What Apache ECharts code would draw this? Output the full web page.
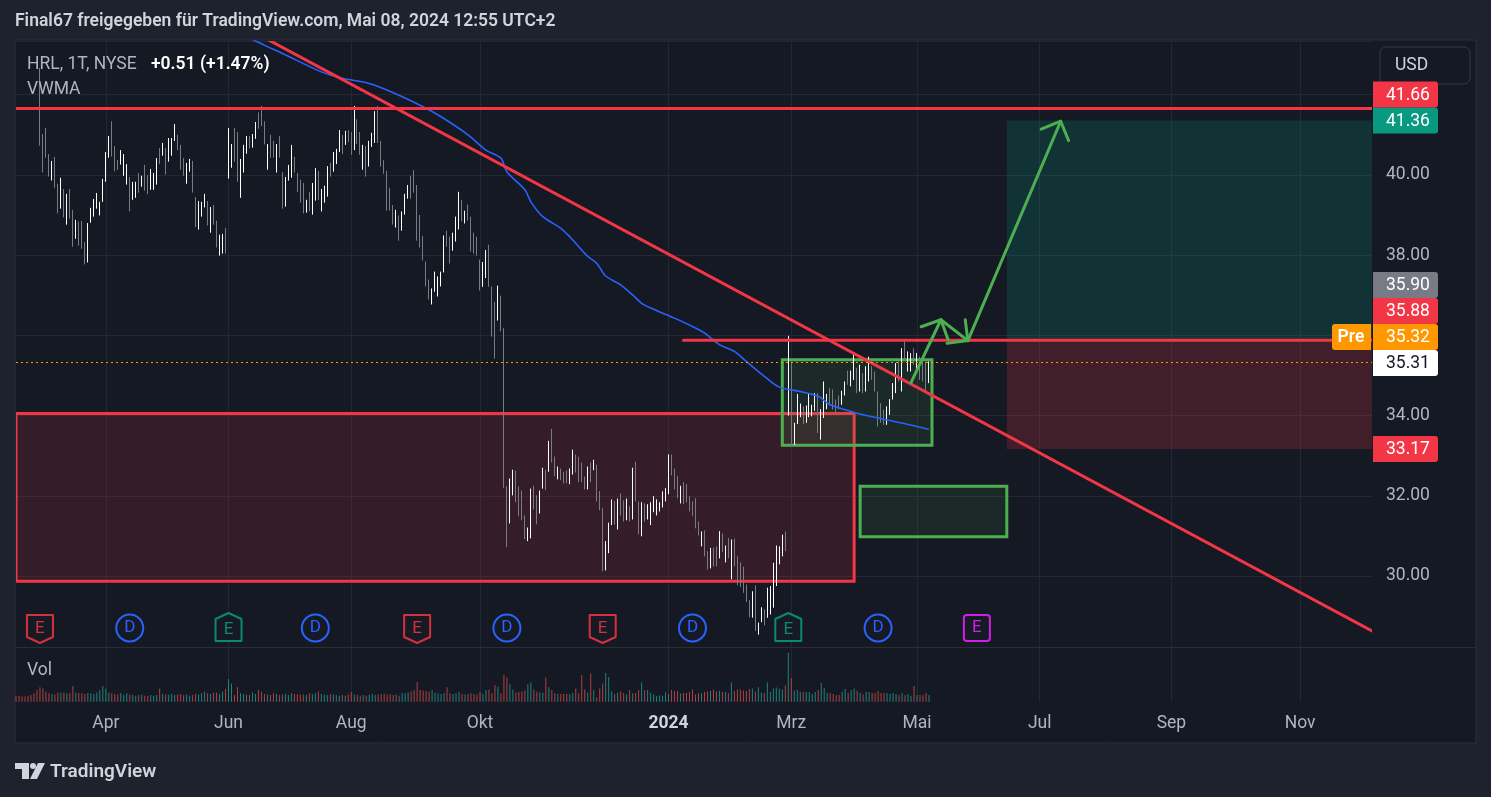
<!DOCTYPE html>
<html>
<head>
<meta charset="utf-8">
<title>HRL 1T NYSE</title>
<script src="https://cdn.jsdelivr.net/npm/echarts@6/dist/echarts.min.js"></script>
<style>
  html, body { margin: 0; padding: 0; background: #1e222d; }
  #chart { width: 1491px; height: 797px; }
</style>
</head>
<body>
<div id="chart"></div>
<script>
// Handelstage NYSE ab 17.02.2023, Wochenenden und Feiertage fallen raus
var holidays = ['2023-02-20', '2023-04-07', '2023-05-29', '2023-06-19', '2023-07-04', '2023-09-04',
  '2023-11-23', '2023-12-25', '2024-01-01', '2024-01-15', '2024-02-19', '2024-03-29', '2024-05-27',
  '2024-06-19', '2024-07-04', '2024-09-02', '2024-11-28'];
var dates = [];
(function () {
  var d = new Date(Date.UTC(2023, 1, 17));
  while (dates.length < 454) {
    var s = d.toISOString().slice(0, 10);
    var wd = d.getUTCDay();
    if (wd !== 0 && wd !== 6 && holidays.indexOf(s) < 0) dates.push(s);
    d.setUTCDate(d.getUTCDate() + 1);
  }
})();

var monthsDe = ['Jan', 'Feb', 'Mrz', 'Apr', 'Mai', 'Jun', 'Jul', 'Aug', 'Sep', 'Okt', 'Nov', 'Dez'];
var labelMonths = ['2023-04', '2023-06', '2023-08', '2023-10', '2024-01', '2024-03', '2024-05', '2024-07', '2024-09', '2024-11'];

// Kerzen (Index 0 = 17.02.2023, letzte Kerze = 07.05.2024)
var opens = [
  45.00, 44.80, 44.60, 44.50, 44.70, 44.60, 44.50, 44.40, 42.55, 40.95,
  41.05, 40.45, 39.95, 40.30, 39.70, 39.20, 39.55, 38.90, 39.45, 39.00,
  38.45, 38.78, 38.40, 38.25, 37.88, 38.85, 39.05, 39.25, 39.05, 39.35,
  39.90, 40.50, 41.00, 40.60, 40.33, 40.30, 40.05, 39.85, 39.90, 39.42,
  39.50, 39.95, 39.75, 40.15, 39.90, 39.68, 39.70, 39.85, 40.60, 40.52,
  40.60, 40.40, 40.55, 40.90, 40.95, 40.70, 40.35, 39.85, 40.12, 40.30,
  39.40, 38.75, 39.00, 39.25, 39.30, 38.65, 39.15, 38.80, 38.05, 38.10,
  38.60, 40.00, 40.25, 41.05, 40.95, 39.55, 40.12, 40.58, 40.92, 40.72,
  40.95, 41.50, 41.60, 41.28, 40.20, 40.95, 40.80, 40.15, 40.90, 40.00,
  39.28, 39.90, 40.00, 40.40, 40.00, 39.80, 39.40, 39.10, 39.50, 39.10,
  39.45, 40.05, 39.15, 39.38, 39.55, 40.25, 40.12, 40.32, 40.62, 40.95,
  40.80, 41.08, 41.00, 40.70, 41.30, 41.00, 40.20, 40.65, 40.28, 40.75,
  40.88, 41.60, 40.80, 40.32, 40.05, 39.60, 39.20, 38.75, 38.92, 38.68,
  39.08, 39.45, 39.90, 40.05, 39.65, 38.90, 38.40, 37.80, 37.32, 36.82,
  37.15, 37.02, 37.28, 37.62, 38.55, 38.40, 38.15, 38.40, 38.70, 39.32,
  38.85, 39.20, 38.90, 38.50, 38.40, 37.82, 37.25, 37.50, 38.15, 37.10,
  36.75, 36.45, 36.90, 36.05, 32.15, 31.40, 32.08, 32.55, 32.15, 32.05,
  31.45, 30.92, 31.02, 32.18, 31.95, 31.62, 32.22, 32.58, 32.65, 33.55,
  32.92, 32.45, 32.64, 32.55, 32.58, 32.33, 32.58, 32.98, 32.90, 32.78,
  32.44, 32.22, 32.78, 32.67, 32.72, 32.05, 31.60, 30.20, 30.62, 31.32,
  31.82, 31.22, 32.00, 31.84, 31.45, 31.70, 31.48, 32.78, 31.80, 31.05,
  31.76, 31.45, 31.33, 31.63, 31.55, 31.64, 31.75, 31.90, 32.10, 32.98,
  32.62, 32.45, 31.86, 32.28, 32.24, 31.95, 31.82, 31.88, 31.32, 30.78,
  31.08, 30.58, 30.24, 30.66, 30.68, 30.50, 31.00, 30.38, 30.90, 30.00,
  30.87, 30.44, 30.28, 30.17, 29.74, 29.36, 29.01, 29.68, 28.57, 28.88,
  29.12, 29.02, 29.10, 29.30, 29.82, 30.33, 30.54, 31.05, 34.10, 35.25,
  33.32, 33.85, 34.00, 34.18, 33.86, 34.02, 34.01, 34.16, 34.48, 33.48,
  34.00, 34.20, 34.64, 34.60, 34.36, 34.46, 34.30, 34.54, 35.08, 34.78,
  34.95, 35.13, 34.66, 35.01, 34.66, 34.90, 35.19, 35.05, 34.52, 34.26,
  34.11, 33.81, 34.06, 34.44, 34.62, 35.30, 34.70, 35.80, 35.15, 35.15,
  35.63, 35.15, 35.42, 35.26, 35.30, 34.85
];
var highs = [
  45.10, 44.90, 44.70, 44.60, 44.80, 44.70, 44.60, 44.50, 42.67, 41.02,
  41.17, 40.52, 40.35, 40.45, 39.78, 39.93, 39.65, 39.53, 39.65, 39.13,
  38.88, 38.84, 38.85, 38.33, 38.80, 39.18, 39.40, 39.55, 39.33, 39.90,
  40.57, 40.97, 41.34, 40.72, 40.37, 40.62, 40.52, 40.27, 39.95, 39.83,
  39.83, 40.05, 39.98, 40.25, 40.00, 40.15, 40.05, 40.42, 40.67, 40.80,
  40.67, 40.92, 40.92, 41.27, 41.00, 40.75, 40.42, 40.30, 40.40, 40.35,
  39.45, 39.35, 39.33, 39.53, 39.35, 39.20, 39.25, 38.86, 38.51, 38.53,
  38.68, 41.17, 40.77, 41.17, 41.07, 40.40, 40.75, 40.97, 40.97, 41.02,
  41.32, 41.56, 41.72, 41.34, 40.77, 41.00, 40.85, 40.77, 40.97, 40.07,
  39.95, 40.25, 40.75, 40.45, 40.05, 39.88, 39.80, 39.38, 39.58, 39.80,
  40.17, 40.10, 39.65, 39.73, 40.22, 40.30, 40.57, 40.65, 41.12, 41.00,
  41.10, 41.12, 41.07, 41.72, 41.39, 41.07, 40.75, 40.72, 40.85, 41.05,
  41.59, 41.72, 40.85, 40.37, 40.10, 39.68, 39.25, 39.13, 38.99, 39.09,
  39.53, 39.75, 39.98, 40.12, 39.75, 39.00, 38.48, 37.84, 37.39, 37.17,
  37.59, 37.47, 37.59, 38.49, 38.61, 38.46, 38.56, 38.96, 39.58, 39.38,
  39.11, 39.26, 38.96, 38.56, 38.46, 37.89, 37.83, 38.13, 38.26, 37.22,
  36.84, 37.24, 36.99, 36.18, 32.24, 32.43, 32.65, 32.63, 32.23, 32.13,
  31.51, 31.21, 32.18, 32.25, 32.01, 32.13, 32.70, 32.65, 33.37, 33.67,
  32.98, 32.73, 32.68, 32.60, 32.63, 32.68, 33.15, 33.03, 32.98, 32.83,
  32.48, 32.73, 32.83, 32.90, 32.78, 32.12, 31.70, 30.87, 31.33, 31.91,
  31.87, 31.93, 32.06, 31.89, 31.93, 31.74, 32.70, 32.85, 31.86, 31.84,
  31.81, 31.79, 31.84, 31.99, 31.91, 31.84, 32.11, 32.19, 33.03, 33.03,
  32.68, 32.50, 32.25, 32.34, 32.29, 31.99, 31.86, 31.94, 31.36, 31.11,
  31.14, 30.62, 30.70, 30.71, 30.74, 31.12, 31.06, 30.76, 30.95, 30.91,
  30.93, 30.50, 30.34, 30.23, 29.79, 29.40, 29.62, 29.77, 28.84, 29.22,
  29.17, 29.71, 29.75, 30.33, 30.76, 30.74, 31.03, 31.11, 35.99, 35.35,
  33.82, 34.54, 34.30, 34.23, 34.25, 34.56, 34.27, 34.56, 34.56, 34.16,
  34.85, 34.54, 34.69, 34.65, 34.40, 34.50, 34.62, 34.85, 35.12, 35.12,
  35.52, 35.19, 35.27, 35.06, 35.23, 35.47, 35.23, 35.10, 34.60, 34.31,
  34.15, 34.23, 34.41, 34.81, 35.31, 35.35, 35.68, 35.85, 35.60, 35.56,
  35.68, 35.56, 35.47, 35.31, 35.35, 35.35
];
var lows = [
  44.30, 44.20, 44.00, 43.95, 44.00, 44.05, 43.90, 43.80, 40.73, 40.06,
  40.43, 39.96, 39.86, 39.68, 39.04, 39.16, 38.94, 38.76, 38.91, 38.21,
  38.41, 38.24, 38.16, 37.77, 37.82, 38.81, 38.96, 39.16, 38.99, 39.33,
  39.83, 40.43, 40.46, 40.09, 40.13, 40.26, 39.98, 39.76, 39.09, 39.38,
  39.43, 39.56, 39.71, 39.61, 39.52, 39.63, 39.63, 39.76, 40.27, 40.48,
  40.01, 40.33, 40.48, 40.85, 40.62, 40.13, 39.98, 39.78, 40.08, 39.56,
  38.70, 38.64, 38.96, 39.19, 38.74, 38.56, 38.76, 38.19, 37.99, 38.04,
  38.04, 39.91, 40.18, 40.33, 39.83, 39.43, 40.06, 40.53, 40.66, 40.68,
  40.90, 41.15, 41.22, 40.76, 40.13, 40.43, 40.43, 40.06, 40.43, 39.16,
  39.21, 39.86, 39.93, 40.06, 39.58, 39.31, 39.04, 39.06, 39.09, 39.01,
  39.36, 39.38, 39.09, 39.31, 39.46, 39.96, 40.08, 40.27, 40.57, 40.52,
  40.75, 40.82, 40.50, 40.62, 40.77, 40.50, 40.13, 39.96, 40.21, 40.70,
  40.80, 40.80, 40.21, 40.03, 39.11, 39.11, 38.76, 38.69, 38.36, 38.61,
  39.01, 39.41, 39.41, 39.56, 38.36, 38.19, 37.87, 37.22, 36.89, 36.77,
  37.09, 36.97, 37.22, 37.57, 38.21, 37.79, 38.11, 38.34, 38.64, 38.84,
  38.79, 38.86, 38.09, 38.04, 37.99, 37.12, 37.21, 37.43, 37.21, 35.97,
  35.42, 36.37, 36.10, 32.20, 30.72, 31.31, 32.01, 31.84, 31.49, 31.39,
  30.92, 30.87, 30.94, 31.66, 31.29, 31.56, 32.18, 32.14, 32.60, 32.83,
  32.49, 32.41, 32.39, 32.31, 32.31, 32.29, 32.53, 32.58, 32.34, 32.34,
  32.16, 32.16, 32.34, 32.64, 31.86, 31.64, 30.12, 30.14, 30.57, 31.27,
  31.28, 31.16, 31.51, 31.36, 31.39, 31.36, 31.41, 31.86, 31.04, 30.99,
  31.36, 31.41, 31.27, 31.59, 31.51, 31.61, 31.71, 31.86, 32.04, 32.51,
  32.16, 31.94, 31.81, 31.79, 31.84, 31.61, 31.49, 31.19, 31.01, 30.74,
  30.49, 30.16, 30.19, 30.24, 30.24, 30.44, 30.60, 30.34, 30.44, 29.92,
  30.24, 29.77, 29.73, 29.58, 29.35, 28.97, 28.96, 28.63, 28.54, 28.85,
  28.77, 28.96, 29.04, 29.21, 29.75, 30.29, 30.49, 30.62, 34.00, 33.22,
  33.27, 33.79, 33.96, 33.79, 33.82, 33.96, 33.98, 34.12, 33.57, 33.40,
  33.94, 34.16, 34.25, 34.15, 34.06, 34.16, 34.27, 34.50, 34.77, 34.73,
  34.89, 34.56, 34.60, 34.56, 34.60, 34.85, 34.89, 34.60, 33.73, 33.82,
  33.77, 33.77, 34.02, 34.40, 34.56, 34.85, 34.60, 35.35, 35.10, 35.10,
  35.27, 35.10, 34.89, 34.85, 34.60, 34.81
];
var closes = [
  44.40, 44.30, 44.10, 44.05, 44.10, 44.15, 44.00, 43.90, 41.00, 40.25,
  40.50, 40.05, 40.30, 39.75, 39.10, 39.85, 39.00, 39.45, 39.00, 38.30,
  38.80, 38.35, 38.25, 37.85, 38.75, 39.15, 39.35, 39.50, 39.30, 39.85,
  40.50, 40.90, 40.55, 40.15, 40.17, 40.55, 40.45, 40.20, 39.20, 39.78,
  39.78, 39.62, 39.95, 39.70, 39.60, 40.10, 40.00, 40.38, 40.33, 40.75,
  40.10, 40.85, 40.88, 41.20, 40.68, 40.20, 40.05, 40.25, 40.35, 39.65,
  38.80, 39.30, 39.28, 39.48, 38.80, 39.15, 38.82, 38.25, 38.45, 38.48,
  38.10, 41.05, 40.70, 40.40, 39.90, 40.35, 40.70, 40.92, 40.70, 40.98,
  41.28, 41.20, 41.28, 40.82, 40.72, 40.50, 40.48, 40.72, 40.48, 39.25,
  39.90, 40.20, 40.70, 40.10, 39.62, 39.38, 39.10, 39.35, 39.15, 39.75,
  40.10, 39.45, 39.60, 39.68, 40.15, 40.00, 40.52, 40.60, 41.05, 40.58,
  41.05, 40.88, 40.55, 41.60, 40.85, 40.55, 40.70, 40.02, 40.80, 41.00,
  41.52, 40.88, 40.28, 40.08, 39.20, 39.18, 38.82, 39.08, 38.42, 39.02,
  39.48, 39.70, 39.48, 39.62, 38.45, 38.25, 37.92, 37.28, 36.95, 37.12,
  37.52, 37.42, 37.55, 38.42, 38.25, 37.85, 38.50, 38.90, 39.50, 38.90,
  39.05, 38.92, 38.15, 38.10, 38.05, 37.20, 37.78, 38.05, 37.30, 36.05,
  35.55, 37.15, 36.18, 32.35, 30.85, 32.35, 32.58, 31.90, 31.55, 31.45,
  30.98, 31.15, 32.10, 31.72, 31.35, 32.08, 32.65, 32.20, 33.30, 32.90,
  32.55, 32.70, 32.43, 32.35, 32.35, 32.64, 33.08, 32.62, 32.40, 32.40,
  32.20, 32.68, 32.40, 32.87, 31.92, 31.70, 30.25, 30.80, 31.28, 31.85,
  31.34, 31.88, 31.56, 31.42, 31.88, 31.40, 32.62, 31.92, 31.10, 31.78,
  31.40, 31.75, 31.80, 31.95, 31.87, 31.81, 32.07, 32.15, 32.95, 32.56,
  32.20, 31.98, 32.20, 31.84, 31.88, 31.65, 31.53, 31.25, 31.05, 31.07,
  30.55, 30.20, 30.65, 30.28, 30.28, 31.05, 30.64, 30.72, 30.48, 30.85,
  30.30, 29.83, 29.78, 29.63, 29.40, 29.01, 29.57, 28.70, 28.81, 29.18,
  28.81, 29.65, 29.70, 30.25, 30.70, 30.70, 30.98, 30.66, 35.30, 33.35,
  33.78, 34.48, 34.26, 33.84, 34.21, 34.50, 34.24, 34.52, 33.65, 34.10,
  34.78, 34.50, 34.30, 34.20, 34.10, 34.20, 34.58, 34.81, 34.81, 35.08,
  35.45, 34.62, 35.21, 34.61, 35.18, 35.41, 34.93, 34.65, 33.80, 33.86,
  33.81, 34.19, 34.37, 34.77, 35.25, 34.90, 35.60, 35.40, 35.55, 35.51,
  35.31, 35.51, 34.94, 34.90, 34.80, 35.31
];
// Volumen in Mio. Stück
var volumes = [
  1.9, 1.9, 1.7, 1.7, 2.0, 2.2, 2.8, 3.9, 4.8, 4.4,
  3.3, 2.8, 2.6, 2.4, 3.0, 3.0, 3.0, 2.8, 2.8, 5.2,
  3.0, 2.9, 2.8, 2.6, 2.9, 2.8, 2.6, 3.1, 3.9, 5.2,
  4.4, 3.1, 2.8, 2.6, 2.4, 2.9, 2.2, 2.8, 2.4, 2.2,
  2.0, 2.2, 2.4, 2.0, 1.9, 2.2, 2.0, 2.2, 4.4, 2.6,
  2.4, 2.3, 2.6, 2.2, 2.4, 2.6, 2.2, 2.4, 2.0, 2.2,
  2.6, 2.4, 2.8, 3.3, 2.8, 2.6, 3.0, 3.1, 2.6, 3.3,
  4.2, 7.6, 6.1, 2.2, 4.8, 2.8, 2.6, 2.4, 2.2, 3.1,
  2.6, 4.0, 3.3, 2.6, 2.4, 2.2, 2.8, 2.6, 2.2, 2.4,
  2.6, 2.2, 2.8, 2.6, 2.6, 2.4, 2.4, 2.2, 2.8, 2.6,
  2.8, 3.4, 2.6, 2.4, 2.2, 2.6, 2.4, 2.2, 2.0, 2.2,
  2.0, 2.4, 3.2, 2.4, 2.2, 2.0, 2.2, 2.0, 2.4, 2.6,
  2.2, 2.4, 2.6, 2.6, 2.4, 2.6, 2.2, 2.4, 2.0, 2.8,
  2.8, 3.1, 3.4, 3.9, 6.6, 3.9, 3.7, 3.6, 3.4, 3.9,
  3.0, 2.8, 2.6, 2.8, 4.8, 2.8, 2.6, 2.8, 3.2, 2.6,
  2.4, 2.6, 2.8, 2.6, 2.4, 3.2, 2.6, 3.9, 4.0, 2.8,
  5.6, 5.0, 2.8, 8.9, 8.1, 5.8, 4.1, 3.0, 3.2, 3.4,
  3.7, 5.8, 6.4, 4.1, 3.3, 3.1, 3.0, 8.1, 4.8, 3.9,
  2.8, 2.6, 2.6, 2.6, 2.6, 2.6, 2.9, 4.4, 2.8, 8.8,
  4.1, 3.1, 9.4, 3.9, 1.4, 4.4, 6.1, 9.6, 8.2, 3.4,
  2.6, 3.0, 3.4, 2.8, 2.4, 3.9, 2.8, 2.9, 3.9, 6.4,
  3.7, 3.9, 3.0, 2.4, 1.9, 2.1, 2.0, 3.1, 2.6, 3.9,
  3.6, 3.6, 2.7, 2.9, 2.9, 3.2, 4.1, 2.4, 2.8, 2.8,
  3.2, 3.4, 3.6, 4.1, 3.4, 3.6, 3.2, 3.2, 2.9, 6.4,
  3.6, 4.1, 4.1, 3.7, 3.6, 4.2, 4.4, 3.3, 4.8, 3.1,
  2.9, 6.4, 3.2, 4.4, 4.7, 4.4, 4.1, 5.4, 16.3, 7.9,
  3.7, 3.9, 3.2, 3.2, 3.2, 3.2, 2.6, 3.2, 3.9, 6.2,
  4.6, 2.9, 2.8, 2.6, 2.2, 2.2, 3.2, 4.2, 2.9, 3.9,
  4.4, 3.6, 2.9, 2.4, 3.2, 3.2, 2.9, 2.9, 3.6, 2.9,
  2.9, 2.9, 2.6, 2.9, 2.6, 2.2, 2.9, 2.2, 2.6, 2.0,
  5.2, 2.2, 2.2, 2.2, 2.9, 2.2
];
var vwma = [
  [74, 43.55], [80, 43.34], [84, 43.20], [89, 43.03], [102, 42.57], [109, 42.41], [118, 42.28],
  [127, 42.02], [136, 41.70], [142, 41.45], [151, 41.00], [157, 40.62], [162, 40.42], [164, 40.08],
  [170, 39.63], [172, 39.33], [176, 38.96], [182, 38.67], [185, 38.46], [188, 38.21], [191, 37.97],
  [194, 37.80], [197, 37.48], [202, 37.26], [206, 37.01], [209, 36.80], [213, 36.65], [220, 36.43],
  [226, 36.22], [230, 36.06], [235, 35.77], [240, 35.60], [244, 35.35], [250, 34.98], [255, 34.71],
  [262, 34.60], [268, 34.48], [272, 34.27], [279, 34.10], [283, 34.02], [293, 33.86], [301, 33.73],
  [305, 33.66]
];

// Zeichnungen: [Index1, Preis1, Index2, Preis2]
var lines = [
  [80, 43.54, 453, 28.63],   // Abwaertstrend
  [0, 41.66, 453, 41.66],
  [223, 35.88, 453, 35.88]
];
var boxes = [
  [331, 41.36, 453, 35.90],  // Ziel
  [331, 35.90, 453, 33.17],  // Stop
  [0, 34.05, 280, 29.87],    // Unterstuetzung
  [256, 35.39, 306, 33.26],
  [282, 32.24, 331, 30.98]
];
var boxStyles = [
  { fill: 'rgba(8,153,129,0.2)', lineWidth: 0 },
  { fill: 'rgba(242,54,69,0.2)', lineWidth: 0 },
  { fill: 'rgba(242,54,69,0.14)', stroke: '#f23645', lineWidth: 3 },
  { fill: 'rgba(76,175,80,0.12)', stroke: '#4caf50', lineWidth: 3 },
  { fill: 'rgba(76,175,80,0.12)', stroke: '#4caf50', lineWidth: 3 }
];
var arrows = [
  [299, 34.82, 309, 36.39],
  [309, 36.39, 318, 35.87],
  [318, 35.87, 349, 41.34]
];
// Earnings / Dividenden
var eventBars = [8, 38, 71, 100, 134, 164, 196, 226, 258, 288, 321];
var eventKinds = ['Eminus', 'D', 'Eplus', 'D', 'Eminus', 'D', 'Eminus', 'D', 'Eplus', 'D', 'Enext'];

var FONT = 'Roboto, "Noto Sans", sans-serif';
var FS = 17.5;
var UP = '#ffffff', DOWN = '#787b86';

var candleData = opens.map(function (o, i) { return [o, closes[i], lows[i], highs[i]]; });
var volData = volumes.map(function (v, i) {
  return { value: v, itemStyle: { color: closes[i] >= opens[i] ? 'rgba(38,166,154,0.75)' : 'rgba(239,83,80,0.7)' } };
});

function isMonthLabel(i) {
  var m = dates[i].slice(0, 7);
  return labelMonths.indexOf(m) >= 0 && (i === 0 || dates[i - 1].slice(0, 7) !== m);
}

var chart = echarts.init(document.getElementById('chart'));

chart.setOption({
  backgroundColor: '#1e222d',
  animation: false,
  grid: [
    { left: 16, right: 119, top: 41, height: 606 },
    { left: 16, right: 119, top: 648, height: 53.7 }
  ],
  xAxis: [
    {
      type: 'category', gridIndex: 0, data: dates, boundaryGap: false,
      axisLine: { show: false }, axisTick: { show: false }, axisLabel: { show: false },
      splitLine: { show: true, interval: function (i) { return isMonthLabel(i); }, lineStyle: { color: '#232733', width: 1 } }
    },
    {
      type: 'category', gridIndex: 1, data: dates, boundaryGap: false,
      axisLine: { show: false }, axisTick: { show: false },
      splitLine: { show: true, interval: function (i) { return isMonthLabel(i); }, lineStyle: { color: '#232733', width: 1 } },
      axisLabel: {
        interval: function (i) { return isMonthLabel(i); },
        margin: 13, color: '#b2b5be', fontSize: FS, fontFamily: FONT,
        formatter: function (v) {
          var m = +v.slice(5, 7);
          return m === 1 ? '{y|' + v.slice(0, 4) + '}' : monthsDe[m - 1];
        },
        rich: { y: { color: '#d1d4dc', fontSize: FS, fontWeight: 'bold', fontFamily: FONT } }
      }
    }
  ],
  yAxis: [
    {
      type: 'value', gridIndex: 0, position: 'right', min: 28.23, max: 43.34,
      splitNumber: 8, minInterval: 2, maxInterval: 2,
      axisLine: { show: false }, axisTick: { show: false },
      axisLabel: {
        color: '#b2b5be', fontSize: FS, fontFamily: FONT, margin: 14,
        showMinLabel: false, showMaxLabel: false,
        formatter: function (v) { return v.toFixed(2); }
      },
      splitLine: { lineStyle: { color: '#232733', width: 1 } }
    },
    { type: 'value', gridIndex: 1, min: 0, max: 17.9, show: false }
  ],
  series: [
    {
      name: 'boxes', type: 'custom', xAxisIndex: 0, yAxisIndex: 0, clip: true, z: 1, silent: true,
      data: boxes,
      renderItem: function (params, api) {
        var a = api.coord([api.value(0), api.value(1)]);
        var b = api.coord([api.value(2), api.value(3)]);
        return {
          type: 'rect',
          shape: { x: Math.min(a[0], b[0]), y: Math.min(a[1], b[1]), width: Math.abs(b[0] - a[0]), height: Math.abs(b[1] - a[1]) },
          style: boxStyles[params.dataIndex]
        };
      }
    },
    {
      name: 'HRL', type: 'candlestick', xAxisIndex: 0, yAxisIndex: 0, z: 2, clip: true,
      data: candleData, barWidth: 1,
      itemStyle: { color: UP, color0: DOWN, borderColor: UP, borderColor0: DOWN, borderWidth: 1 },
      markLine: {
        silent: true, symbol: ['none', 'none'], label: { show: false },
        lineStyle: { color: '#ff9800', type: [2, 3], width: 1 },
        data: [{ yAxis: 35.32 }]
      }
    },
    {
      name: 'VWMA', type: 'line', xAxisIndex: 0, yAxisIndex: 0, z: 3, clip: true,
      data: vwma, showSymbol: false, smooth: 0.3,
      lineStyle: { color: '#2962ff', width: 1.6 }
    },
    {
      name: 'Vol', type: 'bar', xAxisIndex: 1, yAxisIndex: 1, data: volData, barWidth: 1
    },
    {
      name: 'lines', type: 'custom', xAxisIndex: 0, yAxisIndex: 0, clip: true, z: 4, silent: true,
      data: lines,
      renderItem: function (params, api) {
        var a = api.coord([api.value(0), api.value(1)]);
        var b = api.coord([api.value(2), api.value(3)]);
        return {
          type: 'line', shape: { x1: a[0], y1: a[1], x2: b[0], y2: b[1] },
          style: { stroke: '#f23645', lineWidth: 3, lineCap: 'round' }
        };
      }
    },
    {
      name: 'arrows', type: 'custom', xAxisIndex: 0, yAxisIndex: 0, clip: true, z: 5, silent: true,
      data: arrows,
      renderItem: function (params, api) {
        var a = api.coord([api.value(0), api.value(1)]);
        var b = api.coord([api.value(2), api.value(3)]);
        var ang = Math.atan2(a[1] - b[1], a[0] - b[0]);
        var len = 21, spread = Math.PI / 4;
        var w1 = [b[0] + len * Math.cos(ang + spread), b[1] + len * Math.sin(ang + spread)];
        var w2 = [b[0] + len * Math.cos(ang - spread), b[1] + len * Math.sin(ang - spread)];
        var st = { stroke: '#4caf50', lineWidth: 3, lineCap: 'round', lineJoin: 'round', fill: null };
        return {
          type: 'group', children: [
            { type: 'polyline', shape: { points: [a, b] }, style: st },
            { type: 'polyline', shape: { points: [w1, b, w2] }, style: st }
          ]
        };
      }
    },
    {
      name: 'events', type: 'custom', xAxisIndex: 0, yAxisIndex: 0, z: 6, silent: true,
      data: eventBars.map(function (b) { return [b, 30]; }),
      renderItem: function (params, api) {
        var x = api.coord([api.value(0), 30])[0];
        var cy = params.coordSys.y + params.coordSys.height - 19;
        var kind = eventKinds[params.dataIndex];
        var bg = '#161a25', shape, color, letter = 'E', ty = cy;
        if (kind === 'D') {
          color = '#2962ff'; letter = 'D';
          shape = { type: 'circle', shape: { cx: x, cy: cy, r: 13.5 }, style: { fill: bg, stroke: color, lineWidth: 2 } };
        } else if (kind === 'Eminus') {
          color = '#d6303e'; ty = cy + 1;
          shape = { type: 'polygon', shape: { points: [[x - 13, cy - 13], [x + 13, cy - 13], [x + 13, cy + 9], [x, cy + 15], [x - 13, cy + 9]] },
            style: { fill: bg, stroke: color, lineWidth: 2, lineJoin: 'round' } };
        } else if (kind === 'Eplus') {
          color = '#0a8a72'; ty = cy + 1.5;
          shape = { type: 'polygon', shape: { points: [[x, cy - 15], [x + 13, cy - 9], [x + 13, cy + 13], [x - 13, cy + 13], [x - 13, cy - 9]] },
            style: { fill: bg, stroke: color, lineWidth: 2, lineJoin: 'round' } };
        } else {
          color = '#d21de6';
          shape = { type: 'rect', shape: { x: x - 13, y: cy - 13, width: 26, height: 26, r: 3 }, style: { fill: bg, stroke: color, lineWidth: 2 } };
        }
        return {
          type: 'group', children: [shape, {
            type: 'text',
            style: { text: letter, x: x, y: ty, textAlign: 'center', textVerticalAlign: 'middle', fill: color, font: '17px ' + FONT }
          }]
        };
      }
    }
  ]
});

// Preisschilder an der Skala, von unten nach oben gestapelt wie bei TradingView
function priceTags() {
  var tags = [
    { p: 41.66, bg: '#f23645', fg: '#ffffff' },
    { p: 41.36, bg: '#089981', fg: '#ffffff' },
    { p: 35.90, bg: '#787b86', fg: '#ffffff' },
    { p: 35.88, bg: '#f23645', fg: '#ffffff' },
    { p: 35.32, bg: '#ff9800', fg: '#ffffff', pre: true },
    { p: 35.31, bg: '#ffffff', fg: '#131722' },
    { p: 33.17, bg: '#f23645', fg: '#ffffff' }
  ];
  var h = 26, limit = Infinity;
  tags.forEach(function (t) { t.y = chart.convertToPixel({ yAxisIndex: 0 }, t.p); });
  tags.sort(function (a, b) { return b.y - a.y; });
  tags.forEach(function (t) {
    if (t.y + h / 2 > limit) t.y = limit - h / 2;
    limit = t.y - h / 2;
  });
  var out = [];
  tags.forEach(function (t) {
    out.push({ type: 'rect', z: 30, silent: true, shape: { x: 1373, y: t.y - h / 2, width: 65, height: h, r: [0, 3, 3, 0] }, style: { fill: t.bg } });
    out.push({ type: 'text', z: 31, silent: true, style: { text: t.p.toFixed(2), x: 1386, y: t.y + 1, fill: t.fg, font: FS + 'px ' + FONT, textVerticalAlign: 'middle' } });
    if (t.pre) {
      out.push({ type: 'rect', z: 30, silent: true, shape: { x: 1332, y: t.y - h / 2, width: 39, height: h, r: [3, 0, 0, 3] }, style: { fill: t.bg } });
      out.push({ type: 'text', z: 31, silent: true, style: { text: 'Pre', x: 1351, y: t.y + 1, fill: '#ffffff', font: '600 ' + FS + 'px ' + FONT, textAlign: 'center', textVerticalAlign: 'middle' } });
    }
  });
  return out;
}

var frame = [
  { type: 'rect', z: -10, silent: true, shape: { x: 15, y: 40, width: 1461, height: 703 }, style: { fill: '#151924', stroke: '#2a2e39', lineWidth: 1 } },
  { type: 'line', z: 10, silent: true, shape: { x1: 15, y1: 647.5, x2: 1476, y2: 647.5 }, style: { stroke: '#2a2e39', lineWidth: 1 } },
  { type: 'text', z: 20, silent: true, style: { text: 'Final67 freigegeben für TradingView.com, Mai 08, 2024 12:55 UTC+2', x: 15, y: 22, fill: '#d1d4dc', font: '600 ' + FS + 'px ' + FONT, textVerticalAlign: 'middle' } },
  { type: 'text', z: 20, silent: true, style: { text: 'HRL, 1T, NYSE', x: 27, y: 65, fill: '#b2b5be', font: FS + 'px ' + FONT, textVerticalAlign: 'middle' } },
  { type: 'text', z: 20, silent: true, style: { text: '+0.51 (+1.47%)', x: 151, y: 65, fill: '#ffffff', font: '600 ' + FS + 'px ' + FONT, textVerticalAlign: 'middle' } },
  { type: 'text', z: 20, silent: true, style: { text: 'VWMA', x: 27, y: 90, fill: '#b2b5be', font: FS + 'px ' + FONT, textVerticalAlign: 'middle' } },
  { type: 'text', z: 20, silent: true, style: { text: 'Vol', x: 27, y: 671, fill: '#b2b5be', font: FS + 'px ' + FONT, textVerticalAlign: 'middle' } },
  { type: 'rect', z: 20, silent: true, shape: { x: 1380, y: 47, width: 90, height: 37, r: 6 }, style: { fill: '#151924', stroke: '#363a45', lineWidth: 1 } },
  { type: 'text', z: 21, silent: true, style: { text: 'USD', x: 1395, y: 66, fill: '#d1d4dc', font: FS + 'px ' + FONT, textVerticalAlign: 'middle' } },
  // Logo unten links
  { type: 'polygon', z: 20, silent: true, shape: { points: [[15, 763], [29, 763], [29, 779], [22, 779], [22, 769], [15, 769]] }, style: { fill: '#d1d4dc' } },
  { type: 'circle', z: 20, silent: true, shape: { cx: 33, cy: 766, r: 3 }, style: { fill: '#d1d4dc' } },
  { type: 'polygon', z: 20, silent: true, shape: { points: [[38, 763], [45, 763], [37, 779], [30, 779]] }, style: { fill: '#d1d4dc' } },
  { type: 'text', z: 20, silent: true, style: { text: 'TradingView', x: 50, y: 772, fill: '#d1d4dc', font: '600 19px ' + FONT, textVerticalAlign: 'middle' } }
];

chart.setOption({ graphic: frame.concat(priceTags()) });
</script>
</body>
</html>
